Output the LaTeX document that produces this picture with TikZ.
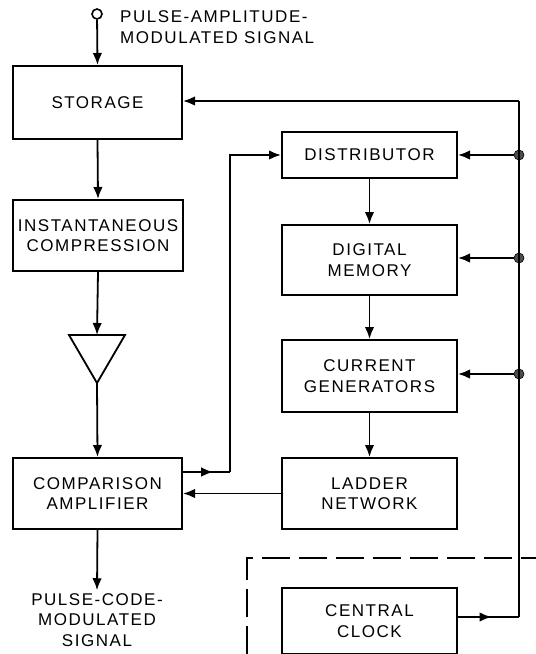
\documentclass[tikz,border=0pt]{standalone}
\usepackage{fontspec}
\setmainfont{Liberation Sans}[LetterSpace=9]
\usetikzlibrary{arrows.meta,decorations.markings}

\begin{document}
\begin{tikzpicture}[x=1pt,y=-1pt,
  line width=1.8pt,
  >={Latex[length=12pt,width=9.5pt]},
  every node/.style={font=\fontsize{17}{20.5}\selectfont, align=center},
  blk/.style={draw, line width=2pt, rectangle, inner sep=0pt},
  flow/.style={->},
  midarrow/.style={postaction={decorate}, decoration={markings,
      mark=at position #1 with {\arrow{Latex[length=12pt,width=9.5pt]}}}},
  junction/.style={circle, fill=black!70, draw=black, line width=0.6pt, minimum size=10pt, inner sep=0pt},
  clockbound/.style={dashed, dash pattern=on 28pt off 9pt, line width=1.6pt}
]
\useasboundingbox (0,0) rectangle (536,654);

% left column
\node[circle, draw, line width=1.6pt, minimum size=10pt, inner sep=0pt] (pam) at (97,14) {};
\node[anchor=west, align=left] (pamtext) at (116,27) {PULSE-AMPLITUDE-\\MODULATED SIGNAL};
\node[blk, minimum width=169pt, minimum height=73pt] (storage) at (97.5,102.5) {STORAGE};
\node[blk, minimum width=170pt, minimum height=71pt] (compr) at (98,235.5) {INSTANTANEOUS\\COMPRESSION};
\coordinate (amptop) at (97,335);
\coordinate (ampapex) at (97,383);
\coordinate (ampleft) at (69,335);
\coordinate (ampright) at (125,335);
\draw[line width=1.8pt, line join=miter] (ampleft) -- (ampright) -- (ampapex) -- cycle;
\node[blk, minimum width=169pt, minimum height=71pt] (cmp) at (97.5,493.5) {COMPARISON\\AMPLIFIER};
\node (pcm) at (97,620) {PULSE-CODE-\\MODULATED\\SIGNAL};

% right column
\node[blk, minimum width=175pt, minimum height=46pt] (dist) at (369.5,155) {DISTRIBUTOR};
\node[blk, minimum width=175pt, minimum height=70pt] (mem) at (369.5,260) {DIGITAL\\MEMORY};
\node[blk, minimum width=175pt, minimum height=72pt] (gen) at (369.5,376) {CURRENT\\GENERATORS};
\node[blk, minimum width=175pt, minimum height=71pt] (lad) at (369.5,493.5) {LADDER\\NETWORK};
\node[blk, minimum width=175pt, minimum height=66pt] (clk) at (369.5,621) {CENTRAL\\CLOCK};

% clock bus
\coordinate (busbot) at (519,617);
\coordinate (bustop) at (519,101);
\node[junction] (j1) at (519,155) {};
\node[junction] (j2) at (519,258) {};
\node[junction] (j3) at (519,374) {};
\coordinate (clkout) at (clk.east |- busbot);
\draw[midarrow=0.55] (clkout) -- (busbot);
\draw (busbot) -- (bustop);
\draw[flow] (bustop) -- (storage.east |- bustop);
\draw[flow] (j1) -- (dist.east |- j1);
\draw[flow] (j2) -- (mem.east |- j2);
\draw[flow] (j3) -- (gen.east |- j3);

% signal path
\draw[flow] (pam) -- (storage.north);
\draw[flow] (storage.south) -- (compr.north);
\draw[flow] (compr.south) -- (amptop);
\draw[flow] (ampapex) -- (cmp.north);
\draw[flow] (cmp.south) -- ([yshift=-1pt]pcm.north);
\draw[flow] (dist.south) -- (mem.north);
\draw[flow] (mem.south) -- (gen.north);
\draw[flow] (gen.south) -- (lad.north);
\draw[flow] (lad.west) -- (cmp.east |- lad.west);

% comparison output to distributor
\coordinate (cmpout) at (182,472);
\coordinate (lbend) at (230,472);
\coordinate (ltop) at (230,155);
\draw[midarrow=0.65] (cmpout) -- (lbend);
\draw[flow] (lbend) -- (ltop) -- (dist.west);

% dashed boundary of the clock unit
\coordinate (dsw) at (247,654);
\coordinate (dnw) at (247,558);
\coordinate (dne) at (536,558);
\draw[clockbound] (dsw) -- (dnw) -- (dne);
\end{tikzpicture}
\end{document}
